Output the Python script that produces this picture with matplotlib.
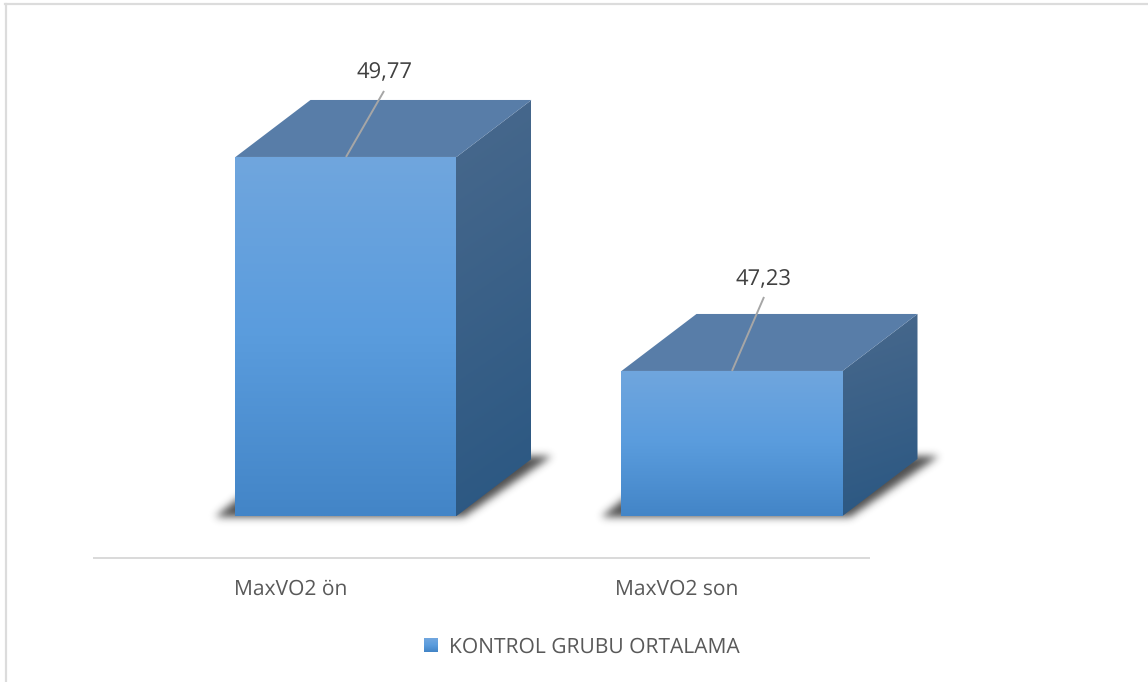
import numpy as np
import matplotlib
matplotlib.use("Agg")
import matplotlib.pyplot as plt
from matplotlib.colors import to_rgb
from matplotlib.legend_handler import HandlerBase
from matplotlib.patches import Patch, Polygon, Rectangle
from matplotlib.path import Path

# Group means
categories = ["MaxVO2 ön", "MaxVO2 son"]
values = [49.77, 47.23]
value_labels = ["49,77", "47,23"]
series_name = "KONTROL GRUBU ORTALAMA"

W, H = 1148, 682
plt.rcParams["font.family"] = ["Open Sans", "DejaVu Sans"]
plt.rcParams["text.hinting"] = "no_hinting"
plt.rcParams["text.hinting_factor"] = 1
fig = plt.figure(figsize=(W / 100, H / 100), dpi=100, facecolor="white")

# Plot area in pixels; the scales below give 386 px per category, 84.25 px per unit
left, right, axis_y, top = 94, 869, 558, 19
ax = fig.add_axes([left / W, (H - axis_y) / H, (right - left) / W, (axis_y - top) / H])
PX_X, PX_Y = 386.0, 84.25
center0 = 290.5
ax.set_xlim((left - center0) / PX_X, (right - center0) / PX_X)
y_bottom = 45.01
ax.set_ylim(y_bottom, y_bottom + (axis_y - top) / PX_Y)
base = y_bottom + (axis_y - 516) / PX_Y

# Box geometry of the pseudo-3D columns
bar_w = 221 / PX_X
bar_off = 55.5 / PX_X
dep_x, dep_y = 75 / PX_X, 57 / PX_Y

FRONT = ("#70a6de", "#5a9cdd", "#4385c7")
SIDE = ("#47688c", "#2a5782")
TOPC = "#587da8"


def ramp(stops, n=256):
    cols = np.array([to_rgb(c) for c in stops])
    pos = np.linspace(0, 1, len(stops))
    t = np.linspace(0, 1, n)
    return np.stack([np.interp(t, pos, cols[:, i]) for i in range(3)], axis=1)


def shaded(poly_pts, rgb, zorder):
    """Fill a polygon with a pre-computed image clipped to its outline."""
    pts = np.array(poly_pts)
    extent = (pts[:, 0].min(), pts[:, 0].max(), pts[:, 1].min(), pts[:, 1].max())
    im = ax.imshow(rgb, extent=extent, origin="upper", aspect="auto",
                   interpolation="bilinear", zorder=zorder)
    clip = Polygon(pts, closed=True, transform=ax.transData, fc="none", ec="none", clip_on=False)
    ax.add_patch(clip)
    im.set_clip_box(fig.bbox)
    im.set_clip_path(clip)


def blur(a, size):
    kernel = np.exp(-0.5 * (np.arange(-3 * size, 3 * size + 1) / size) ** 2)
    kernel /= kernel.sum()
    a = np.apply_along_axis(lambda r: np.convolve(r, kernel, mode="same"), 0, a)
    return np.apply_along_axis(lambda r: np.convolve(r, kernel, mode="same"), 1, a)


def shadow(x0, x1):
    """Soft ground shadow beneath a column, drawn as a blurred parallelogram."""
    pad_x, pad_y = 40 / PX_X, 30 / PX_Y
    xs = np.linspace(x0 - pad_x, x1 + dep_x + pad_x, int((x1 - x0 + dep_x + 2 * pad_x) * PX_X))
    ys = np.linspace(base + dep_y + pad_y, base - pad_y, int((dep_y + 2 * pad_y) * PX_Y))
    gx, gy = np.meshgrid(xs, ys)
    outline = Path([
        (x0 - 20 / PX_X, base - 1 / PX_Y),
        (x1 + 8 / PX_X, base - 1 / PX_Y),
        (x1 + dep_x + 21 / PX_X, base + dep_y + 3 / PX_Y),
        (x0 + dep_x - 20 / PX_X, base + dep_y + 3 / PX_Y),
    ])
    mask = outline.contains_points(np.c_[gx.ravel(), gy.ravel()]).reshape(gx.shape).astype(float)
    alpha = blur(mask, 4) * 0.78
    rgba = np.zeros(mask.shape + (4,))
    rgba[..., :3] = 0.12
    rgba[..., 3] = alpha
    im = ax.imshow(rgba, extent=(xs[0], xs[-1], ys[-1], ys[0]), origin="upper", aspect="auto",
                   interpolation="bilinear", zorder=1)
    im.set_clip_box(fig.bbox)


for i, v in enumerate(values):
    x0 = i + bar_off - bar_w / 2
    x1 = x0 + bar_w
    shadow(x0, x1)

    # Side face, started slightly under the front so no seam opens between them
    tuck = 2 / PX_X
    side = [(x1 - tuck, base), (x1, base), (x1 + dep_x, base + dep_y),
            (x1 + dep_x, v + dep_y), (x1, v), (x1 - tuck, v)]
    rows = ramp(SIDE)
    grid = np.linspace(0, 1, 64)
    tx, ty = np.meshgrid(grid, np.linspace(0, 1, 256))
    t = np.clip(ty * 0.95 + (tx - 0.5) * 0.12, 0, 1)
    idx = (t * 255).astype(int)
    shaded(side, rows[idx], 3)

    # Front face
    front = [(x0, base), (x1, base), (x1, v), (x0, v)]
    shaded(front, ramp(FRONT)[:, None, :], 4)

    # Top face
    ax.add_patch(Polygon([(x0, v), (x1, v), (x1 + dep_x, v + dep_y), (x0 + dep_x, v + dep_y)],
                         closed=True, fc=TOPC, ec="none", zorder=3, clip_on=False))

# Data labels joined to the column tops with leader lines
leader_ends = [(38, 66), (32, 74)]
label_gaps = [(39, 84.5), (32, 91.5)]
for i, v in enumerate(values):
    xc = i + bar_off
    ax.plot([xc, xc + leader_ends[i][0] / PX_X], [v, v + leader_ends[i][1] / PX_Y],
            color="#a6a6a6", lw=1.4, zorder=5, solid_capstyle="butt")
    ax.text(xc + label_gaps[i][0] / PX_X, v + label_gaps[i][1] / PX_Y, value_labels[i],
            ha="center", va="center", fontsize=15.8, color="#404040", zorder=6)

# Category axis
for s in ("top", "left", "right"):
    ax.spines[s].set_visible(False)
ax.spines["bottom"].set_color("#d9d9d9")
ax.spines["bottom"].set_linewidth(1.4)
ax.patch.set_alpha(0)
ax.set_yticks([])
ax.set_xticks(range(len(categories)), categories)
ax.tick_params(axis="x", length=0, pad=15, labelsize=15.3, labelcolor="#595959")


class GradientSwatch(HandlerBase):
    """Legend key with the same vertical shading as the columns."""

    def create_artists(self, legend, orig, xdescent, ydescent, width, height, fontsize, trans):
        cols = ramp(FRONT, 14)
        size = 10.1
        x = (width - size) / 2 - xdescent
        y = (height - size) / 2 - ydescent
        step = size / len(cols)
        out = []
        for k, c in enumerate(cols):
            out.append(Rectangle((x, y + size - (k + 1) * step), size, step * 1.05,
                                 fc=c, ec="none", transform=trans))
        return out


leg = fig.legend([Patch()], [series_name], handler_map={Patch: GradientSwatch()},
                 loc="center", bbox_to_anchor=(582 / W, (H - 647) / H),
                 frameon=False, fontsize=15.3, labelcolor="#595959",
                 handlelength=0.66, handletextpad=0.5)

# Chart frame: only the top and left edges fall inside the image
fig.add_artist(plt.Line2D([5.5 / W, 5.5 / W], [0, (H - 4) / H], color="#dcdcdc", lw=1.6))
fig.add_artist(plt.Line2D([5 / W, 1], [(H - 4) / H, (H - 4) / H], color="#dcdcdc", lw=1.6))

fig.savefig("out.png", dpi=100, facecolor="white")
